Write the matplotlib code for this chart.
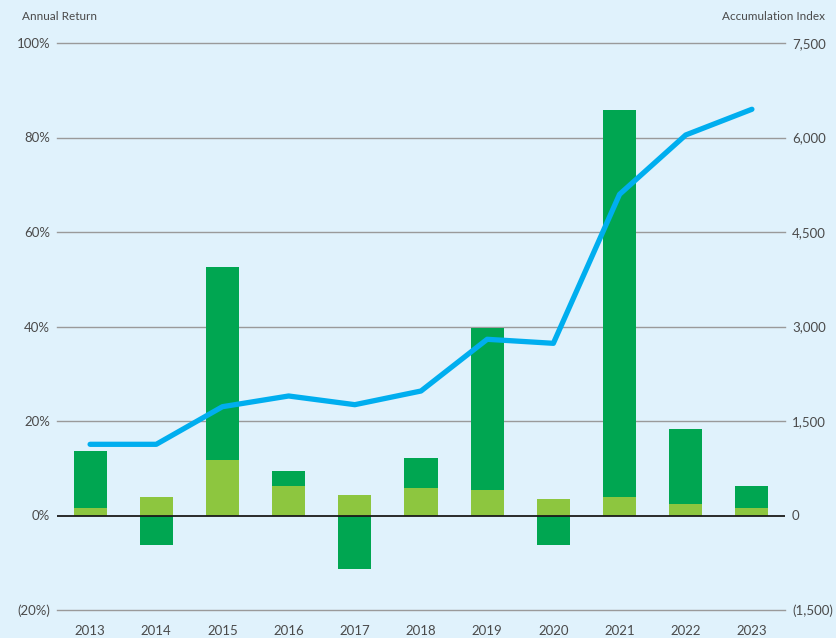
import matplotlib
matplotlib.use("Agg")
import matplotlib.pyplot as plt
import numpy as np

years = ["2013", "2014", "2015", "2016", "2017", "2018", "2019", "2020", "2021", "2022", "2023"]
income_return = [1.5, 3.9, 11.7, 6.2, 4.3, 5.8, 5.3, 3.4, 3.9, 2.5, 1.6]
capital_return = [12.1, -6.3, 40.9, 3.2, -11.3, 6.4, 34.4, -6.3, 82.0, 15.8, 4.6]
accumulation_index = [1130, 1130, 1727, 1897, 1759, 1976, 2797, 2733, 5098, 6040, 6448]

left_ticks = [-20, 0, 20, 40, 60, 80, 100]
left_labels = ["(20%)", "0%", "20%", "40%", "60%", "80%", "100%"]
right_ticks = [-1500, 0, 1500, 3000, 4500, 6000, 7500]
right_labels = ["(1,500)", "0", "1,500", "3,000", "4,500", "6,000", "7,500"]

BG = "#e0f2fc"
DARK = "#00a651"
LIGHT = "#8dc63f"
BLUE = "#00aeef"
TXT = "#4a4a4a"
GRID = "#9a9a9a"

plt.rcParams["font.family"] = ["Lato", "DejaVu Sans"]

fig = plt.figure(figsize=(8.37, 6.38), dpi=100, facecolor=BG)
ax = fig.add_axes([57/837, (638-610)/638, (785-57)/837, (610-43)/638])
ax.set_facecolor(BG)

x = np.arange(len(years))
inc = np.array(income_return)
cap = np.array(capital_return)
w = 0.5
ax.bar(x, inc, width=w, color=LIGHT, zorder=2)
cap_bottom = np.where(cap >= 0, inc, 0)
ax.bar(x, cap, width=w, bottom=cap_bottom, color=DARK, zorder=2)

ax.set_ylim(-20, 100)
ax.set_xlim(-0.5, 10.5)
ax.set_yticks(left_ticks)
ax.set_yticklabels(left_labels)
ax.set_xticks(x)
ax.set_xticklabels(years)
for t in left_ticks:
    if t != 0:
        ax.axhline(t, color=GRID, lw=1.0, zorder=1, clip_on=False)
ax.axhline(0, color="#1a1a1a", lw=1.3, zorder=3)

for s in ax.spines.values():
    s.set_visible(False)
ax.tick_params(axis="y", length=0, pad=5, labelsize=9.5, labelcolor=TXT)
ax.tick_params(axis="x", length=0, pad=11, labelsize=9.5, labelcolor=TXT)

ax2 = ax.twinx()
ax2.set_ylim(-1500, 7500)
ax2.set_yticks(right_ticks)
ax2.set_yticklabels(right_labels)
ax2.plot(x, accumulation_index, color=BLUE, lw=3.8, solid_capstyle="round",
         solid_joinstyle="round", zorder=4)
for s in ax2.spines.values():
    s.set_visible(False)
ax2.tick_params(axis="y", length=0, pad=5, labelsize=9.5, labelcolor=TXT)

fig.text(22/837, 1 - 17/638, "Annual Return", ha="left", va="center", fontsize=8.5, color=TXT)
fig.text(825/837, 1 - 17/638, "Accumulation Index", ha="right", va="center", fontsize=8.5, color=TXT)

fig.savefig("out.png", dpi=100, facecolor=BG)
